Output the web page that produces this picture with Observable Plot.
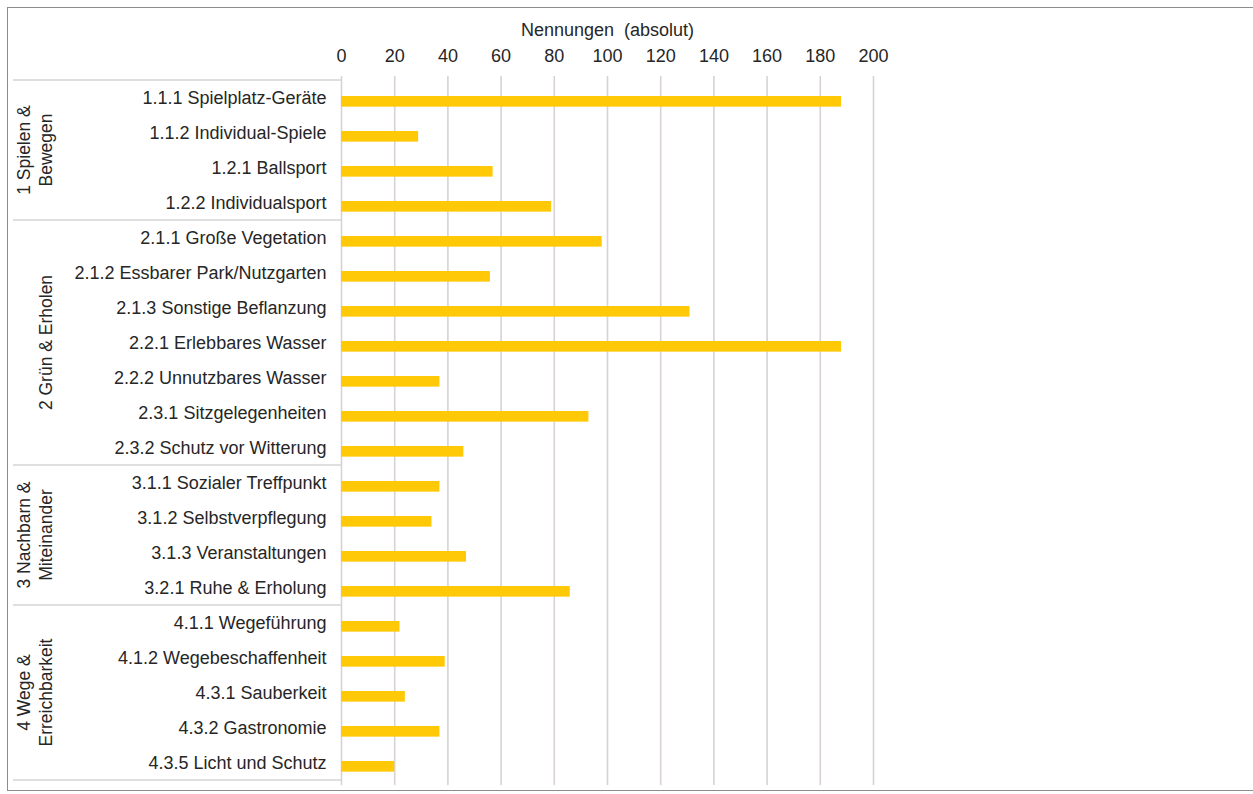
<!DOCTYPE html>
<html>
<head>
<meta charset="utf-8">
<script src="https://cdn.jsdelivr.net/npm/d3@7"></script>
<script src="https://cdn.jsdelivr.net/npm/@observablehq/plot@0.6"></script>
<style>
  html, body { margin: 0; padding: 0; background: #ffffff; }
  #wrap { position: relative; width: 1253px; height: 794px; overflow: hidden; }
  #frame { position: absolute; left: 7px; top: 7px; width: 1260px; height: 784px;
           border-left: 1.5px solid #8c8c8c; border-top: 1.5px solid #8c8c8c; border-bottom: 1.5px solid #8c8c8c; box-sizing: border-box; }
  #chart { position: absolute; left: 0; top: 0; }
</style>
</head>
<body>
<div id="wrap"><div id="frame"></div><div id="chart"></div></div>
<script>
const categories = [
  "1.1.1 Spielplatz-Geräte",
  "1.1.2 Individual-Spiele",
  "1.2.1 Ballsport",
  "1.2.2 Individualsport",
  "2.1.1 Große Vegetation",
  "2.1.2 Essbarer Park/Nutzgarten",
  "2.1.3 Sonstige Beflanzung",
  "2.2.1 Erlebbares Wasser",
  "2.2.2 Unnutzbares Wasser",
  "2.3.1 Sitzgelegenheiten",
  "2.3.2 Schutz vor Witterung",
  "3.1.1 Sozialer Treffpunkt",
  "3.1.2 Selbstverpflegung",
  "3.1.3 Veranstaltungen",
  "3.2.1 Ruhe & Erholung",
  "4.1.1 Wegeführung",
  "4.1.2 Wegebeschaffenheit",
  "4.3.1 Sauberkeit",
  "4.3.2 Gastronomie",
  "4.3.5 Licht und Schutz"
];
const values = [188, 29, 57, 79, 98, 56, 131, 188, 37, 93, 46, 37, 34, 47, 86, 22, 39, 24, 37, 20];
const groupLabels = [["1 Spielen &", "Bewegen"], ["2 Grün & Erholen"], ["3 Nachbarn &", "Miteinander"], ["4 Wege &", "Erreichbarkeit"]];
const groupSizes = [4, 7, 4, 5];
const xTicks = [0, 20, 40, 60, 80, 100, 120, 140, 160, 180, 200];
const axisTitle = "Nennungen  (absolut)";

const rows = categories.map((c, i) => ({category: c, value: values[i]}));
const font = "'Liberation Sans', Arial, sans-serif";
const textColor = "#262626";

const plot = Plot.plot({
  width: 1253,
  height: 794,
  marginLeft: 341,
  marginRight: 380,
  marginTop: 76,
  marginBottom: 11,
  style: {fontFamily: font, fontSize: "18px", color: textColor, background: "transparent", overflow: "visible"},
  x: {domain: [0, 200]},
  y: {domain: categories, padding: 0},
  marks: [
    Plot.ruleX(xTicks, {stroke: "#d8d2d2", strokeWidth: 1.6, insetBottom: -2}),
    Plot.barX(rows, {x: "value", y: "category", fill: "#ffc907", insetTop: 16, insetBottom: 8.35}),
    Plot.axisX(xTicks, {anchor: "top", tickSize: 0, tickPadding: 15, fill: textColor,
      label: axisTitle, labelAnchor: "center", labelArrow: "none", labelOffset: 53}),
    Plot.axisY({tickSize: 0, tickPadding: 15, fill: textColor, label: null})
  ]
});
document.getElementById("chart").appendChild(plot);

// group boxes drawn from the plot's own y scale
const ys = plot.scale("y");
const svg = d3.select(plot);
const g = svg.append("g");
let start = 0;
const bounds = [];
groupSizes.forEach((n, gi) => {
  const y0 = ys.apply(categories[start]);
  const y1 = ys.apply(categories[start + n - 1]) + ys.bandwidth;
  bounds.push(y0);
  if (gi === groupSizes.length - 1) bounds.push(y1);
  const cy = (y0 + y1) / 2;
  const lines = groupLabels[gi];
  const baseX = lines.length === 2 ? [30, 52] : [52];
  lines.forEach((t, li) => {
    g.append("text")
      .attr("transform", `translate(${baseX[li]},${cy}) rotate(-90)`)
      .attr("text-anchor", "middle")
      .attr("font-family", font)
      .attr("font-size", "17.5px")
      .attr("fill", textColor)
      .text(t);
  });
  start += n;
});
bounds.forEach(y => {
  g.append("line").attr("x1", 13).attr("x2", 341).attr("y1", y).attr("y2", y)
    .attr("stroke", "#d4d4d4").attr("stroke-width", 1.5);
});
</script>
</body>
</html>
